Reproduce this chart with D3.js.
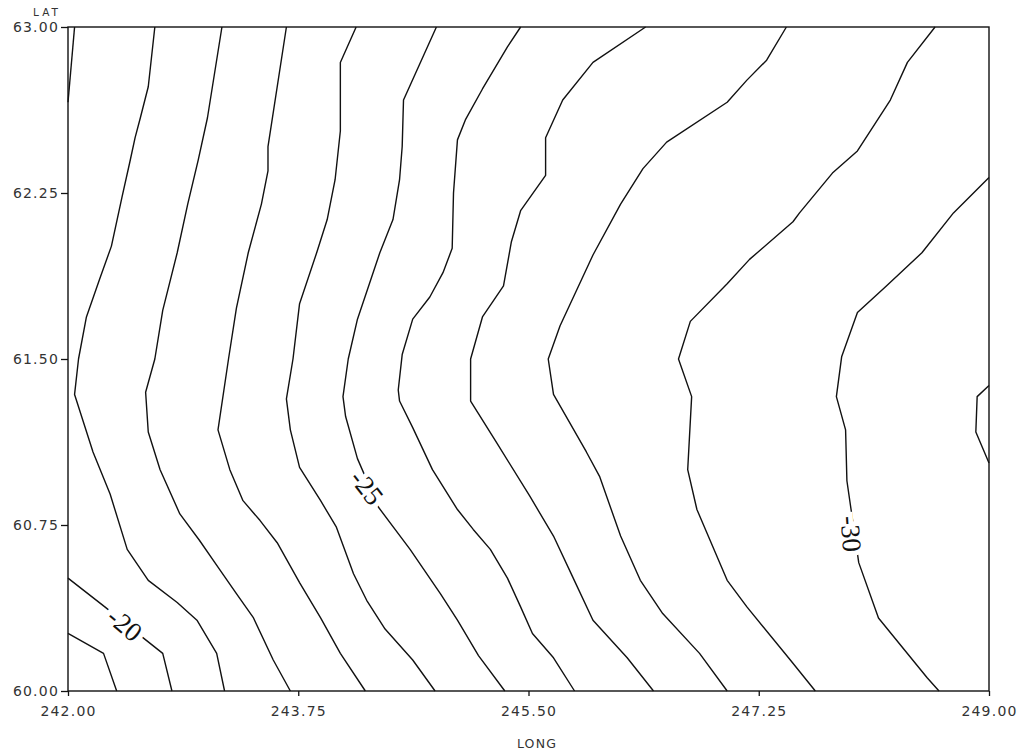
<!DOCTYPE html>
<html>
<head>
<meta charset="utf-8">
<script src="https://cdn.jsdelivr.net/npm/d3@7"></script>
<style>
  body { margin: 0; background: #fff; }
  .tick text { font-family: "DejaVu Sans", sans-serif; font-size: 14px; letter-spacing: 1.2px; fill: #333; }
  .tick line { stroke: #111; stroke-width: 1.3px; }
</style>
</head>
<body>
<svg id="chart" width="1029" height="754"></svg>
<script>
"use strict";

// Axis ticks
const lonTicks = [242.00, 243.75, 245.50, 247.25, 249.00];
const latTicks = [60.00, 60.75, 61.50, 62.25, 63.00];

// Contour lines, [LONG, LAT] vertices
const contourM19 = [[242.00, 60.26], [242.27, 60.17], [242.37, 60.00]];

const contourM20a = [[242.05, 63.00], [242.00, 62.66]];

const contourM20b = [[242.00, 60.51], [242.28, 60.38], [242.55, 60.25], [242.72, 60.17],
  [242.79, 60.00]];

const contourM21 = [[242.66, 63.00], [242.61, 62.73], [242.55, 62.59], [242.51, 62.50],
  [242.47, 62.39], [242.41, 62.23], [242.33, 62.01], [242.24, 61.86], [242.14, 61.69],
  [242.08, 61.50], [242.05, 61.34], [242.19, 61.08], [242.32, 60.89], [242.45, 60.64],
  [242.61, 60.50], [242.83, 60.40], [242.98, 60.32], [243.13, 60.17], [243.19, 60.00]];

const contourM22 = [[243.17, 63.00], [243.06, 62.59], [242.99, 62.40], [242.91, 62.20],
  [242.83, 61.98], [242.72, 61.72], [242.66, 61.50], [242.59, 61.35], [242.61, 61.17],
  [242.70, 61.00], [242.85, 60.80], [243.00, 60.68], [243.14, 60.56], [243.28, 60.44],
  [243.41, 60.33], [243.56, 60.14], [243.69, 60.00]];

const contourM23 = [[243.66, 63.00], [243.52, 62.46], [243.52, 62.35], [243.47, 62.20],
  [243.37, 61.98], [243.28, 61.73], [243.22, 61.50], [243.14, 61.18], [243.23, 61.00],
  [243.33, 60.86], [243.46, 60.77], [243.59, 60.67], [243.76, 60.49], [243.92, 60.33],
  [244.07, 60.17], [244.26, 60.00]];

const contourM24 = [[244.19, 63.00], [244.07, 62.84], [244.07, 62.53], [244.03, 62.31],
  [243.97, 62.13], [243.89, 61.98], [243.76, 61.75], [243.71, 61.50], [243.66, 61.32],
  [243.69, 61.18], [243.76, 61.01], [243.92, 60.86], [244.04, 60.74], [244.17, 60.53],
  [244.27, 60.41], [244.41, 60.28], [244.62, 60.14], [244.79, 60.00]];

const contourM25 = [[244.80, 63.00], [244.55, 62.67], [244.54, 62.46], [244.52, 62.31],
  [244.47, 62.13], [244.37, 61.98], [244.20, 61.68], [244.13, 61.50], [244.09, 61.33],
  [244.11, 61.24], [244.20, 61.05], [244.36, 60.83], [244.60, 60.64], [244.83, 60.44],
  [244.96, 60.32], [245.12, 60.16], [245.32, 60.00]];

const contourM26 = [[245.44, 63.00], [245.34, 62.91], [245.15, 62.72], [245.02, 62.58],
  [244.96, 62.49], [244.93, 62.25], [244.92, 62.00], [244.85, 61.89], [244.75, 61.78],
  [244.62, 61.68], [244.54, 61.52], [244.51, 61.36], [244.52, 61.31], [244.62, 61.19],
  [244.77, 61.00], [244.96, 60.82], [245.08, 60.73], [245.21, 60.64], [245.34, 60.51],
  [245.44, 60.38], [245.53, 60.26], [245.69, 60.15], [245.85, 60.00]];

const contourM27 = [[246.39, 63.00], [245.99, 62.84], [245.76, 62.67], [245.63, 62.50],
  [245.63, 62.33], [245.44, 62.17], [245.37, 62.03], [245.31, 61.83], [245.15, 61.69],
  [245.06, 61.50], [245.06, 61.31], [245.26, 61.12], [245.51, 60.88], [245.69, 60.70],
  [245.84, 60.51], [245.99, 60.32], [246.25, 60.15], [246.45, 60.00]];

const contourM28 = [[247.46, 63.00], [247.31, 62.85], [247.16, 62.76], [247.01, 62.66],
  [246.55, 62.48], [246.37, 62.36], [246.20, 62.20], [245.99, 61.97], [245.74, 61.65],
  [245.65, 61.50], [245.69, 61.34], [245.94, 61.08], [246.04, 60.97], [246.20, 60.70],
  [246.35, 60.50], [246.52, 60.35], [246.80, 60.17], [247.01, 60.00]];

const contourM29 = [[248.59, 63.00], [248.38, 62.84], [248.25, 62.67], [248.00, 62.44],
  [247.81, 62.34], [247.56, 62.16], [247.51, 62.12], [247.18, 61.95], [247.01, 61.84],
  [246.73, 61.67], [246.64, 61.50], [246.74, 61.33], [246.71, 61.00], [246.78, 60.82],
  [247.01, 60.50], [247.16, 60.38], [247.49, 60.14], [247.68, 60.00]];

const contourM30 = [[249.00, 62.32], [248.73, 62.16], [248.49, 61.98], [248.22, 61.83],
  [248.00, 61.71], [247.88, 61.51], [247.84, 61.33], [247.91, 61.18], [247.92, 60.95],
  [248.01, 60.58], [248.16, 60.33], [248.53, 60.06], [248.62, 60.00]];

const contourM31 = [[249.00, 61.38], [248.91, 61.33], [248.90, 61.17], [249.00, 61.03]];

// Labelled contours: level and where the label sits
const labelLevels = [-20, -25, -30];
const labelLons = [242.43, 244.27, 247.95];
const labelLats = [60.30, 60.92, 60.71];

const contours = [
  {level: -19, points: contourM19},
  {level: -20, points: contourM20a},
  {level: -20, points: contourM20b},
  {level: -21, points: contourM21},
  {level: -22, points: contourM22},
  {level: -23, points: contourM23},
  {level: -24, points: contourM24},
  {level: -25, points: contourM25},
  {level: -26, points: contourM26},
  {level: -27, points: contourM27},
  {level: -28, points: contourM28},
  {level: -29, points: contourM29},
  {level: -30, points: contourM30},
  {level: -31, points: contourM31},
];

const svg = d3.select("#chart");

const margin = {top: 27, right: 40, bottom: 63, left: 68};
const width = 1029 - margin.left - margin.right;
const height = 754 - margin.top - margin.bottom;

const xScale = d3.scaleLinear().domain([242, 249]).range([margin.left, margin.left + width]);
const yScale = d3.scaleLinear().domain([60, 63]).range([margin.top + height, margin.top]);

// Contour lines
const line = d3.line()
  .x(p => xScale(p[0]))
  .y(p => yScale(p[1]));

svg.append("g")
  .selectAll("path.contour")
  .data(contours)
  .enter()
  .append("path")
  .attr("class", "contour")
  .attr("d", d => line(d.points))
  .attr("fill", "none")
  .attr("stroke", "#111")
  .attr("stroke-width", 1.4)
  .attr("stroke-linejoin", "round");

// Contour labels; the plotter turned them roughly along the line
const labelRotation = {"-20": 40, "-25": 52, "-30": 86};

labelLevels.forEach((level, i) => {
  const px = xScale(labelLons[i]);
  const py = yScale(labelLats[i]);

  svg.append("text")
    .attr("transform", `translate(${px},${py}) rotate(${labelRotation[level]})`)
    .attr("text-anchor", "middle")
    .attr("dominant-baseline", "central")
    .attr("font-family", "'Liberation Serif', serif")
    .attr("font-size", 27)
    .attr("fill", "#111")
    .attr("stroke", "#fff")
    .attr("stroke-width", 10)
    .attr("paint-order", "stroke")
    .text(String(level));
});

// Frame
svg.append("rect")
  .attr("x", margin.left)
  .attr("y", margin.top)
  .attr("width", width)
  .attr("height", height)
  .attr("fill", "none")
  .attr("stroke", "#111")
  .attr("stroke-width", 1.4);

// Axes
const xAxis = d3.axisBottom(xScale)
  .tickValues(lonTicks)
  .tickFormat(d3.format(".2f"))
  .tickSize(5)
  .tickPadding(10);

svg.append("g")
  .attr("transform", `translate(0,${margin.top + height})`)
  .call(xAxis)
  .call(g => g.select(".domain").remove());

const yAxis = d3.axisLeft(yScale)
  .tickValues(latTicks)
  .tickFormat(d3.format(".2f"))
  .tickSize(7)
  .tickPadding(2);

svg.append("g")
  .attr("transform", `translate(${margin.left},0)`)
  .call(yAxis)
  .call(g => g.select(".domain").remove());

// Axis titles
svg.append("text")
  .attr("x", 537)
  .attr("y", 748)
  .attr("text-anchor", "middle")
  .attr("font-family", "'DejaVu Sans', sans-serif")
  .attr("font-size", 12.5)
  .attr("letter-spacing", "1.2px")
  .attr("fill", "#333")
  .text("LONG");

svg.append("text")
  .attr("x", 47)
  .attr("y", 16)
  .attr("text-anchor", "middle")
  .attr("font-family", "'DejaVu Sans', sans-serif")
  .attr("font-size", 10.5)
  .attr("letter-spacing", "3px")
  .attr("fill", "#333")
  .text("LAT");
</script>
</body>
</html>
